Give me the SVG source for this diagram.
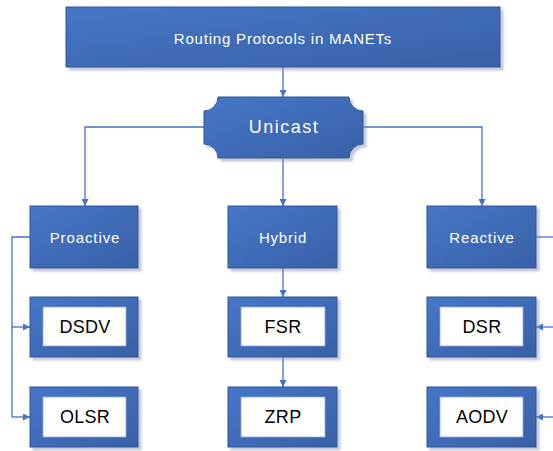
<svg xmlns="http://www.w3.org/2000/svg" width="553" height="451" viewBox="0 0 553 451">
<defs>
<linearGradient id="g" x1="0" y1="0" x2="1" y2="1">
<stop offset="0" stop-color="#4676c8"/>
<stop offset="1" stop-color="#3861a7"/>
</linearGradient>
<filter id="sh" x="-10%" y="-10%" width="125%" height="130%">
<feDropShadow dx="3" dy="3" stdDeviation="1" flood-color="#8a93b0" flood-opacity="0.5"/>
</filter>
<marker id="ah" viewBox="0 0 10 10" refX="10" refY="5" markerWidth="7" markerHeight="7" markerUnits="userSpaceOnUse" orient="auto">
<path d="M0,0 L10,5 L0,10 Z" fill="#4472c4"/>
</marker>
</defs>
<style>
.box{fill:url(#g);stroke:#2f5597;stroke-width:1;filter:url(#sh)}
.inner{fill:#fff;stroke:#8fa9d6;stroke-width:0.8}
.wt{fill:#fff;font-family:"Liberation Sans",Arial,sans-serif;text-anchor:middle;dominant-baseline:central}
.bt{fill:#000;font-family:"Liberation Sans",Arial,sans-serif;text-anchor:middle;dominant-baseline:central;font-size:18px;letter-spacing:0.3px}
.c{fill:none;stroke:#4472c4;stroke-width:1.3}
</style>
<g id="connectors">
<path class="c" d="M283,67 V97" marker-end="url(#ah)"/>
<path class="c" d="M204,127 H85 V206" marker-end="url(#ah)"/>
<path class="c" d="M363,127 H482 V206" marker-end="url(#ah)"/>
<path class="c" d="M283,158 V206" marker-end="url(#ah)"/>
<path class="c" d="M283,268 V297" marker-end="url(#ah)"/>
<path class="c" d="M283,357 V387" marker-end="url(#ah)"/>
<path class="c" d="M30,237 H12 V417"/>
<path class="c" d="M12,327 H30" marker-end="url(#ah)"/>
<path class="c" d="M12,417 H30" marker-end="url(#ah)"/>
<path class="c" d="M536,237 H553"/>
<path class="c" d="M553,327 H536" marker-end="url(#ah)"/>
<path class="c" d="M553,417 H536" marker-end="url(#ah)"/>
</g>
<g id="root">
<rect class="box" x="66" y="7" width="434" height="60"/>
<text class="wt" x="283" y="38" font-size="15" letter-spacing="0.8">Routing Protocols in MANETs</text>
</g>
<g id="unicast">
<path class="box" d="M218,97 H349 A14,14 0 0 0 363,111 V144 A14,14 0 0 0 349,158 H218 A14,14 0 0 0 204,144 V111 A14,14 0 0 0 218,97 Z"/>
<text class="wt" x="284" y="127" font-size="18" letter-spacing="1.5">Unicast</text>
</g>
<g id="proactive">
<rect class="box" x="30" y="206" width="108" height="62"/>
<text class="wt" x="85" y="237" font-size="15" letter-spacing="0.9">Proactive</text>
</g>
<g id="hybrid">
<rect class="box" x="228" y="206" width="109" height="62"/>
<text class="wt" x="283" y="237" font-size="15" letter-spacing="0.8">Hybrid</text>
</g>
<g id="reactive">
<rect class="box" x="427" y="206" width="109" height="62"/>
<text class="wt" x="482" y="237" font-size="15" letter-spacing="0.9">Reactive</text>
</g>
<g id="dsdv">
<rect class="box" x="30" y="297" width="108" height="60"/>
<rect class="inner" x="43" y="307" width="83" height="39"/>
<text class="bt" x="85" y="327">DSDV</text>
</g>
<g id="olsr">
<rect class="box" x="30" y="387" width="108" height="60"/>
<rect class="inner" x="43" y="397" width="83" height="40"/>
<text class="bt" x="85" y="417">OLSR</text>
</g>
<g id="fsr">
<rect class="box" x="228" y="297" width="109" height="60"/>
<rect class="inner" x="241" y="307" width="84" height="39"/>
<text class="bt" x="283" y="327">FSR</text>
</g>
<g id="zrp">
<rect class="box" x="228" y="387" width="109" height="60"/>
<rect class="inner" x="241" y="397" width="84" height="40"/>
<text class="bt" x="283" y="417">ZRP</text>
</g>
<g id="dsr">
<rect class="box" x="427" y="297" width="109" height="60"/>
<rect class="inner" x="440" y="307" width="83" height="39"/>
<text class="bt" x="482" y="327">DSR</text>
</g>
<g id="aodv">
<rect class="box" x="427" y="387" width="109" height="60"/>
<rect class="inner" x="440" y="397" width="83" height="40"/>
<text class="bt" x="482" y="417">AODV</text>
</g>
</svg>
